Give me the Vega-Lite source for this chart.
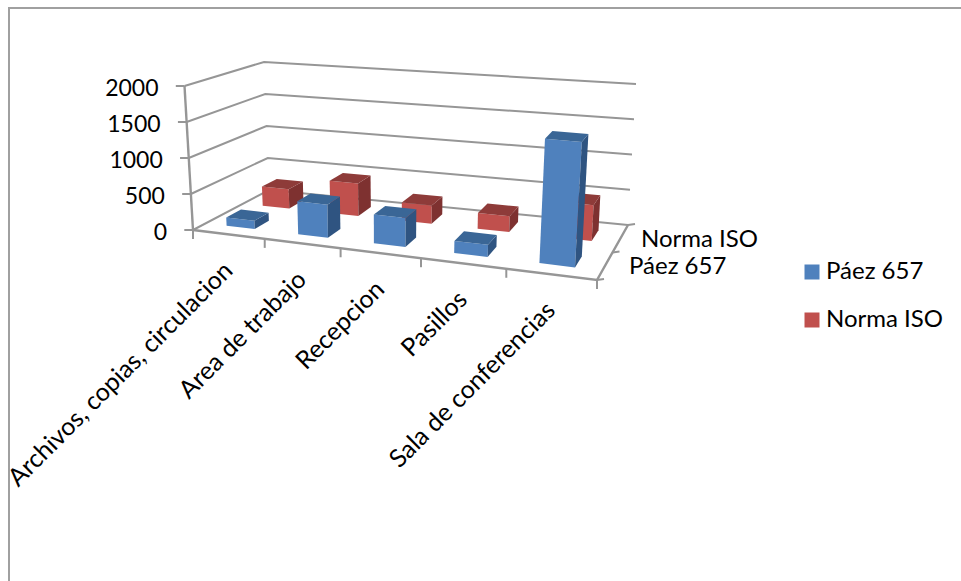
{
  "$schema": "https://vega.github.io/schema/vega-lite/v6.json",
  "width": 961,
  "height": 581,
  "autosize": {"type": "fit", "contains": "padding"},
  "padding": 0,
  "background": "white",
  "view": {"stroke": null},
  "config": {"font": "Lato"},
  "datasets": {
    "barras": [
      {"categoria": "Archivos, copias, circulacion", "serie": "Norma ISO", "valor": 285},
      {"categoria": "Area de trabajo", "serie": "Norma ISO", "valor": 470},
      {"categoria": "Recepcion", "serie": "Norma ISO", "valor": 260},
      {"categoria": "Pasillos", "serie": "Norma ISO", "valor": 220},
      {"categoria": "Sala de conferencias", "serie": "Norma ISO", "valor": 490},
      {"categoria": "Archivos, copias, circulacion", "serie": "Páez 657", "valor": 115},
      {"categoria": "Area de trabajo", "serie": "Páez 657", "valor": 455},
      {"categoria": "Recepcion", "serie": "Páez 657", "valor": 390},
      {"categoria": "Pasillos", "serie": "Páez 657", "valor": 160},
      {"categoria": "Sala de conferencias", "serie": "Páez 657", "valor": 1620}
    ],
    "divisiones": [
      {"valor": 0}, {"valor": 500}, {"valor": 1000}, {"valor": 1500}, {"valor": 2000}
    ],
    "trazos": [{"trazo": "suelo"}, {"trazo": "pared"}],
    "marcas": [
      {"eje": "valor", "marca": 0}, {"eje": "valor", "marca": 500}, {"eje": "valor", "marca": 1000},
      {"eje": "valor", "marca": 1500}, {"eje": "valor", "marca": 2000},
      {"eje": "categoria", "marca": 0}, {"eje": "categoria", "marca": 1}, {"eje": "categoria", "marca": 2},
      {"eje": "categoria", "marca": 3}, {"eje": "categoria", "marca": 4}, {"eje": "categoria", "marca": 5},
      {"eje": "serie", "marca": 0}, {"eje": "serie", "marca": 0.5}, {"eje": "serie", "marca": 1}
    ],
    "rotulos": [
      {"eje": "valor", "marca": 0, "texto": "0"},
      {"eje": "valor", "marca": 500, "texto": "500"},
      {"eje": "valor", "marca": 1000, "texto": "1000"},
      {"eje": "valor", "marca": 1500, "texto": "1500"},
      {"eje": "valor", "marca": 2000, "texto": "2000"},
      {"eje": "categoria", "marca": 0.5, "texto": "Archivos, copias, circulacion"},
      {"eje": "categoria", "marca": 1.5, "texto": "Area de trabajo"},
      {"eje": "categoria", "marca": 2.5, "texto": "Recepcion"},
      {"eje": "categoria", "marca": 3.5, "texto": "Pasillos"},
      {"eje": "categoria", "marca": 4.5, "texto": "Sala de conferencias"},
      {"eje": "serie", "marca": 0.25, "texto": "Páez 657"},
      {"eje": "serie", "marca": 0.75, "texto": "Norma ISO"}
    ]
  },
  "encoding": {
    "x": {"field": "px", "type": "quantitative", "axis": null, "scale": {"domain": [0, 961], "nice": false, "zero": false}},
    "y": {"field": "py", "type": "quantitative", "axis": null, "scale": {"domain": [581, 0], "nice": false, "zero": false}}
  },
  "layer": [
    {
      "data": {"values": [{"marco": "exterior"}]},
      "transform": [
        {"calculate": "[{n:0,px:9,py:581},{n:1,px:9,py:8},{n:2,px:961,py:8}]", "as": "vertices"},
        {"flatten": ["vertices"]},
        {"calculate": "datum.vertices.n", "as": "n"},
        {"calculate": "datum.vertices.px", "as": "px"},
        {"calculate": "datum.vertices.py", "as": "py"}
      ],
      "mark": {"type": "line", "color": "#a0a0a0", "strokeWidth": 2, "clip": true},
      "encoding": {"order": {"field": "n", "type": "quantitative"}}
    },
    {
      "data": {"name": "divisiones"},
      "transform": [
        {"calculate": "[{n:0,s:0,v:0},{n:1,s:0,v:1},{n:2,s:1,v:1}]", "as": "vertices"},
        {"flatten": ["vertices"]},
        {"calculate": "datum.vertices.n", "as": "n"},
        {"calculate": "datum.vertices.s", "as": "s"},
        {"calculate": "datum.vertices.v", "as": "v"},
        {"calculate": "datum.valor/2000", "as": "h"},
        {"calculate": "(1-datum.s)*((1-datum.v)*193+datum.v*269)+datum.s*((1-datum.v)*597+datum.v*628)", "as": "x0"},
        {"calculate": "(1-datum.s)*((1-datum.v)*184.5+datum.v*264)+datum.s*((1-datum.v)*607+datum.v*636)", "as": "x1"},
        {"calculate": "(1-datum.s)*((1-datum.v)*230+datum.v*190)+datum.s*((1-datum.v)*280+datum.v*225)", "as": "y0"},
        {"calculate": "(1-datum.s)*((1-datum.v)*86+datum.v*62)+datum.s*((1-datum.v)*121+datum.v*84)", "as": "y1"},
        {"calculate": "datum.x0+(datum.x1-datum.x0)*datum.h", "as": "px"},
        {"calculate": "datum.y0+(datum.y1-datum.y0)*datum.h", "as": "py"}
      ],
      "mark": {"type": "line", "color": "#969696", "strokeWidth": 2},
      "encoding": {
        "detail": {"field": "valor"},
        "order": {"field": "n", "type": "quantitative"}
      }
    },
    {
      "data": {"name": "trazos"},
      "transform": [
        {"calculate": "datum.trazo=='suelo'?[{n:0,s:0,v:0,h:0},{n:1,s:1,v:0,h:0},{n:2,s:1,v:1,h:0}]:[{n:0,s:0,v:0,h:0},{n:1,s:0,v:0,h:1}]", "as": "vertices"},
        {"flatten": ["vertices"]},
        {"calculate": "datum.vertices.n", "as": "n"},
        {"calculate": "datum.vertices.s", "as": "s"},
        {"calculate": "datum.vertices.v", "as": "v"},
        {"calculate": "datum.vertices.h", "as": "h"},
        {"calculate": "(1-datum.s)*((1-datum.v)*193+datum.v*269)+datum.s*((1-datum.v)*597+datum.v*628)", "as": "x0"},
        {"calculate": "(1-datum.s)*((1-datum.v)*184.5+datum.v*264)+datum.s*((1-datum.v)*607+datum.v*636)", "as": "x1"},
        {"calculate": "(1-datum.s)*((1-datum.v)*230+datum.v*190)+datum.s*((1-datum.v)*280+datum.v*225)", "as": "y0"},
        {"calculate": "(1-datum.s)*((1-datum.v)*86+datum.v*62)+datum.s*((1-datum.v)*121+datum.v*84)", "as": "y1"},
        {"calculate": "datum.x0+(datum.x1-datum.x0)*datum.h", "as": "px"},
        {"calculate": "datum.y0+(datum.y1-datum.y0)*datum.h", "as": "py"}
      ],
      "mark": {"type": "line", "color": "#969696", "strokeWidth": 2.4},
      "encoding": {
        "detail": {"field": "trazo"},
        "order": {"field": "n", "type": "quantitative"}
      }
    },
    {
      "data": {"name": "marcas"},
      "transform": [
        {"calculate": "datum.eje=='categoria'?(datum.marca/5)/((datum.marca/5)+(1-datum.marca/5)*1.158):(datum.eje=='serie'?1:0)", "as": "s"},
        {"calculate": "datum.eje=='serie'?datum.marca:0", "as": "v"},
        {"calculate": "datum.eje=='valor'?datum.marca/2000:0", "as": "h"},
        {"calculate": "(1-datum.s)*((1-datum.v)*193+datum.v*269)+datum.s*((1-datum.v)*597+datum.v*628)", "as": "x0"},
        {"calculate": "(1-datum.s)*((1-datum.v)*184.5+datum.v*264)+datum.s*((1-datum.v)*607+datum.v*636)", "as": "x1"},
        {"calculate": "(1-datum.s)*((1-datum.v)*230+datum.v*190)+datum.s*((1-datum.v)*280+datum.v*225)", "as": "y0"},
        {"calculate": "(1-datum.s)*((1-datum.v)*86+datum.v*62)+datum.s*((1-datum.v)*121+datum.v*84)", "as": "y1"},
        {"calculate": "datum.x0+(datum.x1-datum.x0)*datum.h", "as": "px"},
        {"calculate": "datum.y0+(datum.y1-datum.y0)*datum.h", "as": "py"},
        {"calculate": "datum.px+(datum.eje=='valor'?-8.7:(datum.eje=='serie'?7:0))", "as": "px2"},
        {"calculate": "datum.py+(datum.eje=='categoria'?9:(datum.eje=='serie'?-1:0))", "as": "py2"}
      ],
      "mark": {"type": "rule", "color": "#969696", "strokeWidth": 2},
      "encoding": {
        "x2": {"field": "px2"},
        "y2": {"field": "py2"}
      }
    },
    {
      "data": {"name": "barras"},
      "transform": [
        {"filter": "datum.serie=='Norma ISO'"},
        {"calculate": "indexof(['Archivos, copias, circulacion','Area de trabajo','Recepcion','Pasillos','Sala de conferencias'],datum.categoria)", "as": "i"},
        {"calculate": "[{cara:'frente',n:0,du:0,dv:0,dh:0},{cara:'frente',n:1,du:1,dv:0,dh:0},{cara:'frente',n:2,du:1,dv:0,dh:1},{cara:'frente',n:3,du:0,dv:0,dh:1},{cara:'lateral',n:0,du:1,dv:0,dh:0},{cara:'lateral',n:1,du:1,dv:1,dh:0},{cara:'lateral',n:2,du:1,dv:1,dh:1},{cara:'lateral',n:3,du:1,dv:0,dh:1},{cara:'superior',n:0,du:0,dv:0,dh:1},{cara:'superior',n:1,du:1,dv:0,dh:1},{cara:'superior',n:2,du:1,dv:1,dh:1},{cara:'superior',n:3,du:0,dv:1,dh:1}]", "as": "vertices"},
        {"flatten": ["vertices"]},
        {"calculate": "datum.vertices.n", "as": "n"},
        {"calculate": "datum.categoria+' '+datum.vertices.cara", "as": "poligono"},
        {"calculate": "datum.vertices.cara=='frente'?datum.serie:datum.serie+' '+datum.vertices.cara", "as": "tono"},
        {"calculate": "(datum.i+0.5+(datum.vertices.du-0.5)*0.4)/5", "as": "t"},
        {"calculate": "datum.t/(datum.t+(1-datum.t)*1.158)", "as": "s"},
        {"calculate": "0.66+datum.vertices.dv*0.2", "as": "v"},
        {"calculate": "datum.vertices.dh*datum.valor/2000", "as": "h"},
        {"calculate": "(1-datum.s)*((1-datum.v)*193+datum.v*269)+datum.s*((1-datum.v)*597+datum.v*628)", "as": "x0"},
        {"calculate": "(1-datum.s)*((1-datum.v)*184.5+datum.v*264)+datum.s*((1-datum.v)*607+datum.v*636)", "as": "x1"},
        {"calculate": "(1-datum.s)*((1-datum.v)*230+datum.v*190)+datum.s*((1-datum.v)*280+datum.v*225)", "as": "y0"},
        {"calculate": "(1-datum.s)*((1-datum.v)*86+datum.v*62)+datum.s*((1-datum.v)*121+datum.v*84)", "as": "y1"},
        {"calculate": "datum.x0+(datum.x1-datum.x0)*datum.h", "as": "px"},
        {"calculate": "datum.y0+(datum.y1-datum.y0)*datum.h", "as": "py"}
      ],
      "mark": {"type": "line", "interpolate": "linear-closed", "strokeWidth": 0},
      "encoding": {
        "fill": {
          "field": "tono", "type": "nominal",
          "scale": {
            "domain": ["Páez 657", "Norma ISO", "Páez 657 lateral", "Páez 657 superior", "Norma ISO lateral", "Norma ISO superior"],
            "range": ["#4f81bd", "#c0504d", "#2f5481", "#3a6696", "#7e3130", "#8e3b39"]
          },
          "legend": {
            "values": ["Páez 657", "Norma ISO"],
            "title": null,
            "orient": "none",
            "legendX": 800,
            "legendY": 260,
            "symbolType": "square",
            "symbolSize": 225,
            "symbolStrokeWidth": 0,
            "labelFont": "Lato",
            "labelFontSize": 24,
            "labelColor": "#000000",
            "labelOffset": 2,
            "rowPadding": 24
          }
        },
        "detail": {"field": "poligono"},
        "order": {"field": "n", "type": "quantitative"}
      }
    },
    {
      "data": {"name": "barras"},
      "transform": [
        {"filter": "datum.serie=='Páez 657'"},
        {"calculate": "indexof(['Archivos, copias, circulacion','Area de trabajo','Recepcion','Pasillos','Sala de conferencias'],datum.categoria)", "as": "i"},
        {"calculate": "[{cara:'frente',n:0,du:0,dv:0,dh:0},{cara:'frente',n:1,du:1,dv:0,dh:0},{cara:'frente',n:2,du:1,dv:0,dh:1},{cara:'frente',n:3,du:0,dv:0,dh:1},{cara:'lateral',n:0,du:1,dv:0,dh:0},{cara:'lateral',n:1,du:1,dv:1,dh:0},{cara:'lateral',n:2,du:1,dv:1,dh:1},{cara:'lateral',n:3,du:1,dv:0,dh:1},{cara:'superior',n:0,du:0,dv:0,dh:1},{cara:'superior',n:1,du:1,dv:0,dh:1},{cara:'superior',n:2,du:1,dv:1,dh:1},{cara:'superior',n:3,du:0,dv:1,dh:1}]", "as": "vertices"},
        {"flatten": ["vertices"]},
        {"calculate": "datum.vertices.n", "as": "n"},
        {"calculate": "datum.categoria+' '+datum.vertices.cara", "as": "poligono"},
        {"calculate": "datum.vertices.cara=='frente'?datum.serie:datum.serie+' '+datum.vertices.cara", "as": "tono"},
        {"calculate": "(datum.i+0.5+(datum.vertices.du-0.5)*0.4)/5", "as": "t"},
        {"calculate": "datum.t/(datum.t+(1-datum.t)*1.158)", "as": "s"},
        {"calculate": "0.17+datum.vertices.dv*0.2", "as": "v"},
        {"calculate": "datum.vertices.dh*datum.valor/2000", "as": "h"},
        {"calculate": "(1-datum.s)*((1-datum.v)*193+datum.v*269)+datum.s*((1-datum.v)*597+datum.v*628)", "as": "x0"},
        {"calculate": "(1-datum.s)*((1-datum.v)*184.5+datum.v*264)+datum.s*((1-datum.v)*607+datum.v*636)", "as": "x1"},
        {"calculate": "(1-datum.s)*((1-datum.v)*230+datum.v*190)+datum.s*((1-datum.v)*280+datum.v*225)", "as": "y0"},
        {"calculate": "(1-datum.s)*((1-datum.v)*86+datum.v*62)+datum.s*((1-datum.v)*121+datum.v*84)", "as": "y1"},
        {"calculate": "datum.x0+(datum.x1-datum.x0)*datum.h", "as": "px"},
        {"calculate": "datum.y0+(datum.y1-datum.y0)*datum.h", "as": "py"}
      ],
      "mark": {"type": "line", "interpolate": "linear-closed", "strokeWidth": 0},
      "encoding": {
        "fill": {"field": "tono", "type": "nominal"},
        "detail": {"field": "poligono"},
        "order": {"field": "n", "type": "quantitative"}
      }
    },
    {
      "data": {"name": "rotulos"},
      "transform": [
        {"filter": "datum.eje=='valor'"},
        {"calculate": "193+(184.5-193)*datum.marca/2000-26", "as": "px"},
        {"calculate": "230+(86-230)*datum.marca/2000+3", "as": "py"}
      ],
      "mark": {"type": "text", "align": "right", "baseline": "middle", "font": "Lato", "fontSize": 23, "color": "#000000"},
      "encoding": {"text": {"field": "texto"}}
    },
    {
      "data": {"name": "rotulos"},
      "transform": [
        {"filter": "datum.eje=='categoria'"},
        {"calculate": "(datum.marca/5)/((datum.marca/5)+(1-datum.marca/5)*1.158)", "as": "s"},
        {"calculate": "193+404*datum.s", "as": "px"},
        {"calculate": "230+50*datum.s+32", "as": "py"}
      ],
      "mark": {"type": "text", "align": "right", "baseline": "middle", "angle": 315, "font": "Lato", "fontSize": 25, "color": "#000000"},
      "encoding": {"text": {"field": "texto"}}
    },
    {
      "data": {"name": "rotulos"},
      "transform": [
        {"filter": "datum.eje=='serie'"},
        {"calculate": "597+24*datum.marca+26", "as": "px"},
        {"calculate": "280-55*datum.marca+1", "as": "py"}
      ],
      "mark": {"type": "text", "align": "left", "baseline": "middle", "font": "Lato", "fontSize": 24, "color": "#000000"},
      "encoding": {"text": {"field": "texto"}}
    }
  ]
}
